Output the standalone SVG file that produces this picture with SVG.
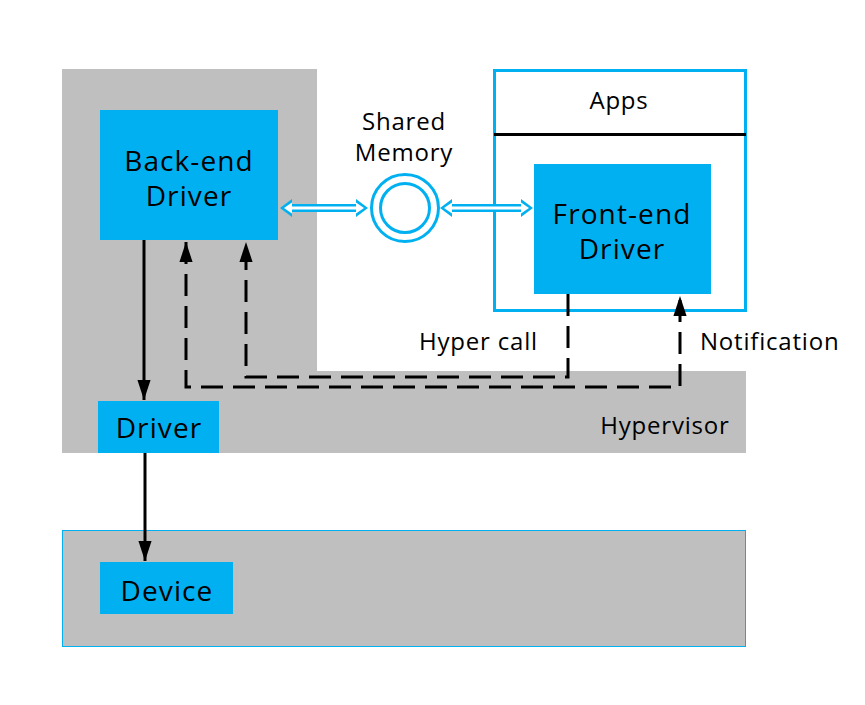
<svg xmlns="http://www.w3.org/2000/svg" width="865" height="705" viewBox="0 0 865 705">
<defs>
<style>
.gray{fill:#BFBFBF}
.blue{fill:#00B0F0}
.t{font-family:"Open Sans","Noto Sans","Liberation Sans",sans-serif;fill:#000}
.big{font-size:28px;letter-spacing:1.1px}
.mid{font-size:24px;letter-spacing:0.8px}
.solid{stroke:#000;stroke-width:3;fill:none}
.dash{stroke:#000;stroke-width:3;fill:none;stroke-dasharray:22 10}
.dbl{stroke:#00B0F0;stroke-width:8;fill:none}
.dblw{stroke:#fff;stroke-width:3;fill:none}
</style>
<marker id="ah" viewBox="0 0 10 10" refX="10" refY="5" markerWidth="6.7" markerHeight="4.4" preserveAspectRatio="none" markerUnits="strokeWidth" orient="auto-start-reverse">
<path d="M0,0 L10,5 L0,10 z" fill="#000"/>
</marker>
</defs>
<rect width="865" height="705" fill="#fff"/>
<g id="host">
<rect class="gray" x="62" y="69" width="255" height="302"/>
<rect class="gray" x="62" y="371" width="684" height="82"/>
<text class="t mid" x="665" y="434" text-anchor="middle">Hypervisor</text>
</g>
<g id="hardware">
<rect class="gray" x="62.5" y="530.5" width="683" height="116" stroke="#00B0F0" stroke-width="1"/>
</g>
<g id="backend">
<rect class="blue" x="100" y="110" width="178" height="130"/>
<text class="t big" x="189" y="171" text-anchor="middle">Back-end</text>
<text class="t big" x="189" y="206" text-anchor="middle">Driver</text>
</g>
<g id="driver">
<rect class="blue" x="98" y="401" width="121" height="52"/>
<text class="t big" x="159" y="438" text-anchor="middle">Driver</text>
</g>
<g id="device">
<rect class="blue" x="100" y="562" width="133" height="52"/>
<text class="t big" x="167" y="601" text-anchor="middle">Device</text>
</g>
<g id="guest">
<rect x="494.5" y="70.5" width="251" height="240" fill="#fff" stroke="#00B0F0" stroke-width="3"/>
<line x1="494" y1="134.5" x2="746" y2="134.5" stroke="#000" stroke-width="3"/>
<text class="t mid" x="619" y="109" text-anchor="middle">Apps</text>
</g>
<g id="frontend">
<rect class="blue" x="534" y="164" width="177" height="130"/>
<text class="t big" x="622" y="224" text-anchor="middle">Front-end</text>
<text class="t big" x="622" y="259" text-anchor="middle">Driver</text>
</g>
<g id="sharedmem">
<circle cx="405" cy="208" r="33.5" fill="#fff" stroke="#00B0F0" stroke-width="3"/>
<circle cx="405" cy="208" r="24.5" fill="#fff" stroke="#00B0F0" stroke-width="3"/>
<text class="t mid" x="404" y="130" text-anchor="middle">Shared</text>
<text class="t mid" x="404" y="161" text-anchor="middle">Memory</text>
</g>
<g id="connectors">
<g id="shm-links">
<path class="dbl" d="M290,208 H358"/>
<path d="M280,208 L292,199 L292,217 Z" fill="#00B0F0"/>
<path d="M368,208 L356,199 L356,217 Z" fill="#00B0F0"/>
<path class="dblw" d="M288,208 H360"/>
<path d="M284,208 L292,202.5 L292,213.5 Z" fill="#fff"/>
<path d="M364,208 L356,202.5 L356,213.5 Z" fill="#fff"/>
<path class="dbl" d="M450,208 H523"/>
<path d="M440,208 L452,199 L452,217 Z" fill="#00B0F0"/>
<path d="M533,208 L521,199 L521,217 Z" fill="#00B0F0"/>
<path class="dblw" d="M448,208 H525"/>
<path d="M444,208 L452,202.5 L452,213.5 Z" fill="#fff"/>
<path d="M529,208 L521,202.5 L521,213.5 Z" fill="#fff"/>
</g>
<path class="solid" d="M144,240 V400" marker-end="url(#ah)"/>
<path class="solid" d="M145,453 V561" marker-end="url(#ah)"/>
<path class="dash" d="M186,242 V387 H680 V296" marker-start="url(#ah)" marker-end="url(#ah)"/>
<path class="dash" d="M568,294 V377 H246 V242" marker-end="url(#ah)"/>
<text class="t mid" x="419" y="350">Hyper call</text>
<text class="t mid" x="700" y="350">Notification</text>
</g>
</svg>
